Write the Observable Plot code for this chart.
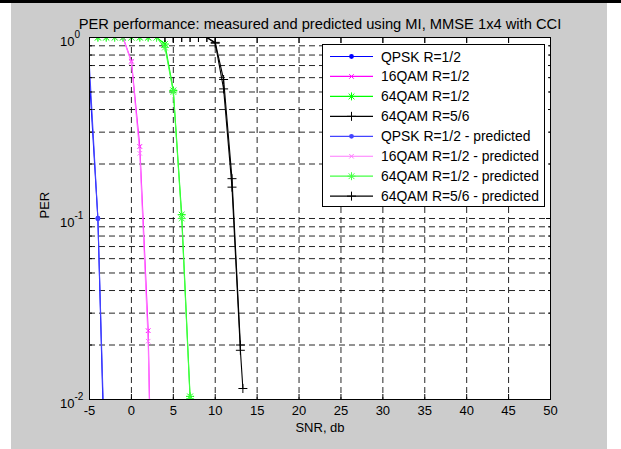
<!DOCTYPE html>
<html><head><meta charset="utf-8">
<script src="https://cdn.jsdelivr.net/npm/d3@7"></script>
<script src="https://cdn.jsdelivr.net/npm/@observablehq/plot@0.6"></script>
<style>
html,body{margin:0;padding:0;background:#fff;width:621px;height:449px;overflow:hidden;font-family:"Liberation Sans",Arial,sans-serif;}
#topbar{position:absolute;left:0;top:0;width:621px;height:3px;background:#000;}
#fig{position:absolute;left:11px;top:3px;width:596px;height:446px;background:#cccccc;}
#fig svg{position:absolute;left:0;top:0;}
#legend{position:absolute;left:321px;top:43px;}
</style></head><body>
<div id="topbar"></div><div id="fig"></div>
<script>
// ---- text ----
const titleText = "PER performance: measured and predicted using MI, MMSE 1x4 with CCI";
const xLabel = "SNR, db";
const yLabel = "PER";
// ---- ticks ----
const xTicks = [-5, 0, 5, 10, 15, 20, 25, 30, 35, 40, 45, 50];
const yMajor = [0.01, 0.1, 1];
const yExponents = ["-2", "-1", "0"];
const yMinor = [0.02, 0.03, 0.04, 0.05, 0.06, 0.07, 0.08, 0.09, 0.2, 0.3, 0.4, 0.5, 0.6, 0.7, 0.8, 0.9];
// ---- series ----
const seriesNames = ["QPSK R=1/2", "16QAM R=1/2", "64QAM R=1/2", "64QAM R=5/6",
  "QPSK R=1/2 - predicted", "16QAM R=1/2 - predicted", "64QAM R=1/2 - predicted", "64QAM R=5/6 - predicted"];
const seriesColors = ["#0000ff", "#ff00ff", "#00ff00", "#000000", "#4444ff", "#ff77ff", "#44ff44", "#000000"];
const seriesMarkers = ["dot", "times", "star", "plus", "dot", "times", "star", "plus"];

const snrQPSK = [-5.3, -4, -3];
const perQPSK = [1, 0.1, 0.002];
const snrQPSKPred = [-5.2, -4, -3];
const perQPSKPred = [1, 0.1, 0.0025];

const snr16QAM = [-2, -1, 0, 1, 2, 3];
const per16QAM = [1, 1, 0.74, 0.25, 0.024, 0.0001];
const per16QAMPred = [1, 1, 0.73, 0.229, 0.021, 0.0001];

const snr64QAM12 = [-4, -3, -2, -1, 0, 1, 2, 3, 4, 5, 6, 7];
const per64QAM12 = [1, 1, 1, 1, 1, 1, 1, 1, 0.92, 0.51, 0.105, 0.0104];
const per64QAM12Pred = [1, 1, 1, 1, 1, 1, 1, 1, 0.88, 0.5, 0.1, 0.0101];

const snr64QAM56 = [4, 5, 6, 7, 8, 9, 10, 11, 12, 13];
const per64QAM56 = [1, 1, 1, 1, 1, 1, 0.94, 0.586, 0.166, 0.02];
const snr64QAM56Pred = [4, 5, 6, 7, 8, 9, 10, 11, 12, 13, 13.3];
const per64QAM56Pred = [1, 1, 1, 1, 1, 1, 0.93, 0.52, 0.149, 0.0187, 0.0115];

const seriesX = [snrQPSK, snr16QAM, snr64QAM12, snr64QAM56, snrQPSKPred, snr16QAM, snr64QAM12, snr64QAM56Pred];
const seriesY = [perQPSK, per16QAM, per64QAM12, per64QAM56, perQPSKPred, per16QAMPred, per64QAM12Pred, per64QAM56Pred];

// ---- marker shapes (MATLAB style) ----
const symbols = {
  plus: {draw(c, s) { const r = Math.sqrt(s / Math.PI); c.moveTo(-r, 0); c.lineTo(r, 0); c.moveTo(0, -r); c.lineTo(0, r); }},
  times: {draw(c, s) { const r = Math.sqrt(s / Math.PI) * 0.75; c.moveTo(-r, -r); c.lineTo(r, r); c.moveTo(-r, r); c.lineTo(r, -r); }},
  star: {draw(c, s) { const r = Math.sqrt(s / Math.PI); const q = r * 0.72;
    c.moveTo(-r, 0); c.lineTo(r, 0); c.moveTo(0, -r); c.lineTo(0, r);
    c.moveTo(-q, -q); c.lineTo(q, q); c.moveTo(-q, q); c.lineTo(q, -q); }},
  dot: d3.symbolCircle
};
const markerR = {plus: 4.5, times: 3, star: 4, dot: 2.4};

const font = '"Liberation Sans", Arial, Helvetica, sans-serif';
const dash = "6,4";

const marks = [
  Plot.frame({fill: "white", stroke: null}),
  Plot.gridX(xTicks, {stroke: "#000", strokeOpacity: 0.85, strokeDasharray: dash}),
  Plot.gridY(yMajor.concat(yMinor), {stroke: "#000", strokeOpacity: 0.85, strokeDasharray: dash})
];

seriesNames.forEach((name, i) => {
  const data = seriesX[i].map((x, j) => ({x, y: seriesY[i][j]}));
  const m = seriesMarkers[i];
  marks.push(Plot.line(data, {x: "x", y: "y", stroke: seriesColors[i], strokeWidth: 1.1, clip: true}));
  marks.push(Plot.dot(data, {
    x: "x", y: "y", symbol: symbols[m], r: markerR[m],
    fill: m === "dot" ? seriesColors[i] : "none",
    stroke: m === "dot" ? "none" : seriesColors[i], strokeWidth: 1, clip: true
  }));
});

marks.push(
  Plot.frame({stroke: "#000", strokeWidth: 1}),
  // inward ticks
  Plot.axisX(xTicks, {anchor: "bottom", tickSize: -5, tickFormat: () => "", label: null}),
  Plot.axisX(xTicks, {anchor: "top", tickSize: -5, tickFormat: () => "", label: null}),
  Plot.axisY(yMajor, {anchor: "left", tickSize: -5, tickFormat: () => "", label: null}),
  Plot.axisY(yMajor, {anchor: "right", tickSize: -5, tickFormat: () => "", label: null}),
  Plot.axisY(yMinor, {anchor: "left", tickSize: -3, tickFormat: () => "", label: null}),
  Plot.axisY(yMinor, {anchor: "right", tickSize: -3, tickFormat: () => "", label: null}),
  // tick labels
  Plot.axisX(xTicks, {anchor: "bottom", tickSize: 0, tickPadding: 6, tickFormat: d => String(d), label: null, fontSize: 13}),
  Plot.text(yMajor, {y: d => d, frameAnchor: "left", text: () => "10", textAnchor: "end", dx: -15, dy: 4, fontSize: 13}),
  Plot.text(yMajor, {y: d => d, frameAnchor: "left", text: (d, i) => yExponents[i], textAnchor: "start", dx: -15, dy: -3, fontSize: 10}),
  // labels & title
  Plot.text([xLabel], {frameAnchor: "bottom", dy: 32, fontSize: 13}),
  Plot.text([yLabel], {frameAnchor: "left", dx: -45, rotate: -90, fontSize: 13}),
  Plot.text([titleText], {frameAnchor: "top", dy: -19, fontSize: 14.7})
);

const chart = Plot.plot({
  width: 596, height: 446,
  marginLeft: 78, marginRight: 57, marginTop: 34, marginBottom: 50,
  style: {background: "transparent", fontFamily: font, fontSize: "13px", color: "#000", overflow: "visible"},
  x: {domain: [-5, 50], label: null},
  y: {type: "log", domain: [0.01, 1], label: null},
  marks
});
document.getElementById("fig").appendChild(chart);

// ---- legend ----
const lw = 225, lh = 165;
const leg = d3.select("body").append("svg").attr("id", "legend")
  .attr("width", lw).attr("height", lh).style("font-family", font);
leg.append("rect").attr("x", 1.5).attr("y", 1.5).attr("width", 222).attr("height", 162)
  .attr("fill", "#fff").attr("stroke", "#000").attr("stroke-width", 1);
seriesNames.forEach((name, i) => {
  const cy = 13.5 + i * 19.95;
  const g = leg.append("g");
  g.append("line").attr("x1", 9).attr("x2", 52).attr("y1", cy).attr("y2", cy)
    .attr("stroke", seriesColors[i]).attr("stroke-width", 1.2);
  const m = seriesMarkers[i];
  g.append("path").attr("transform", `translate(30.5,${cy})`)
    .attr("d", d3.symbol().type(symbols[m]).size(Math.PI * markerR[m] * markerR[m])())
    .attr("fill", m === "dot" ? seriesColors[i] : "none")
    .attr("stroke", m === "dot" ? "none" : seriesColors[i]).attr("stroke-width", 1);
  g.append("text").attr("x", 60).attr("y", cy).attr("dy", "0.36em")
    .attr("font-size", 13.9).attr("fill", "#000").text(name);
});
</script>
</body></html>
